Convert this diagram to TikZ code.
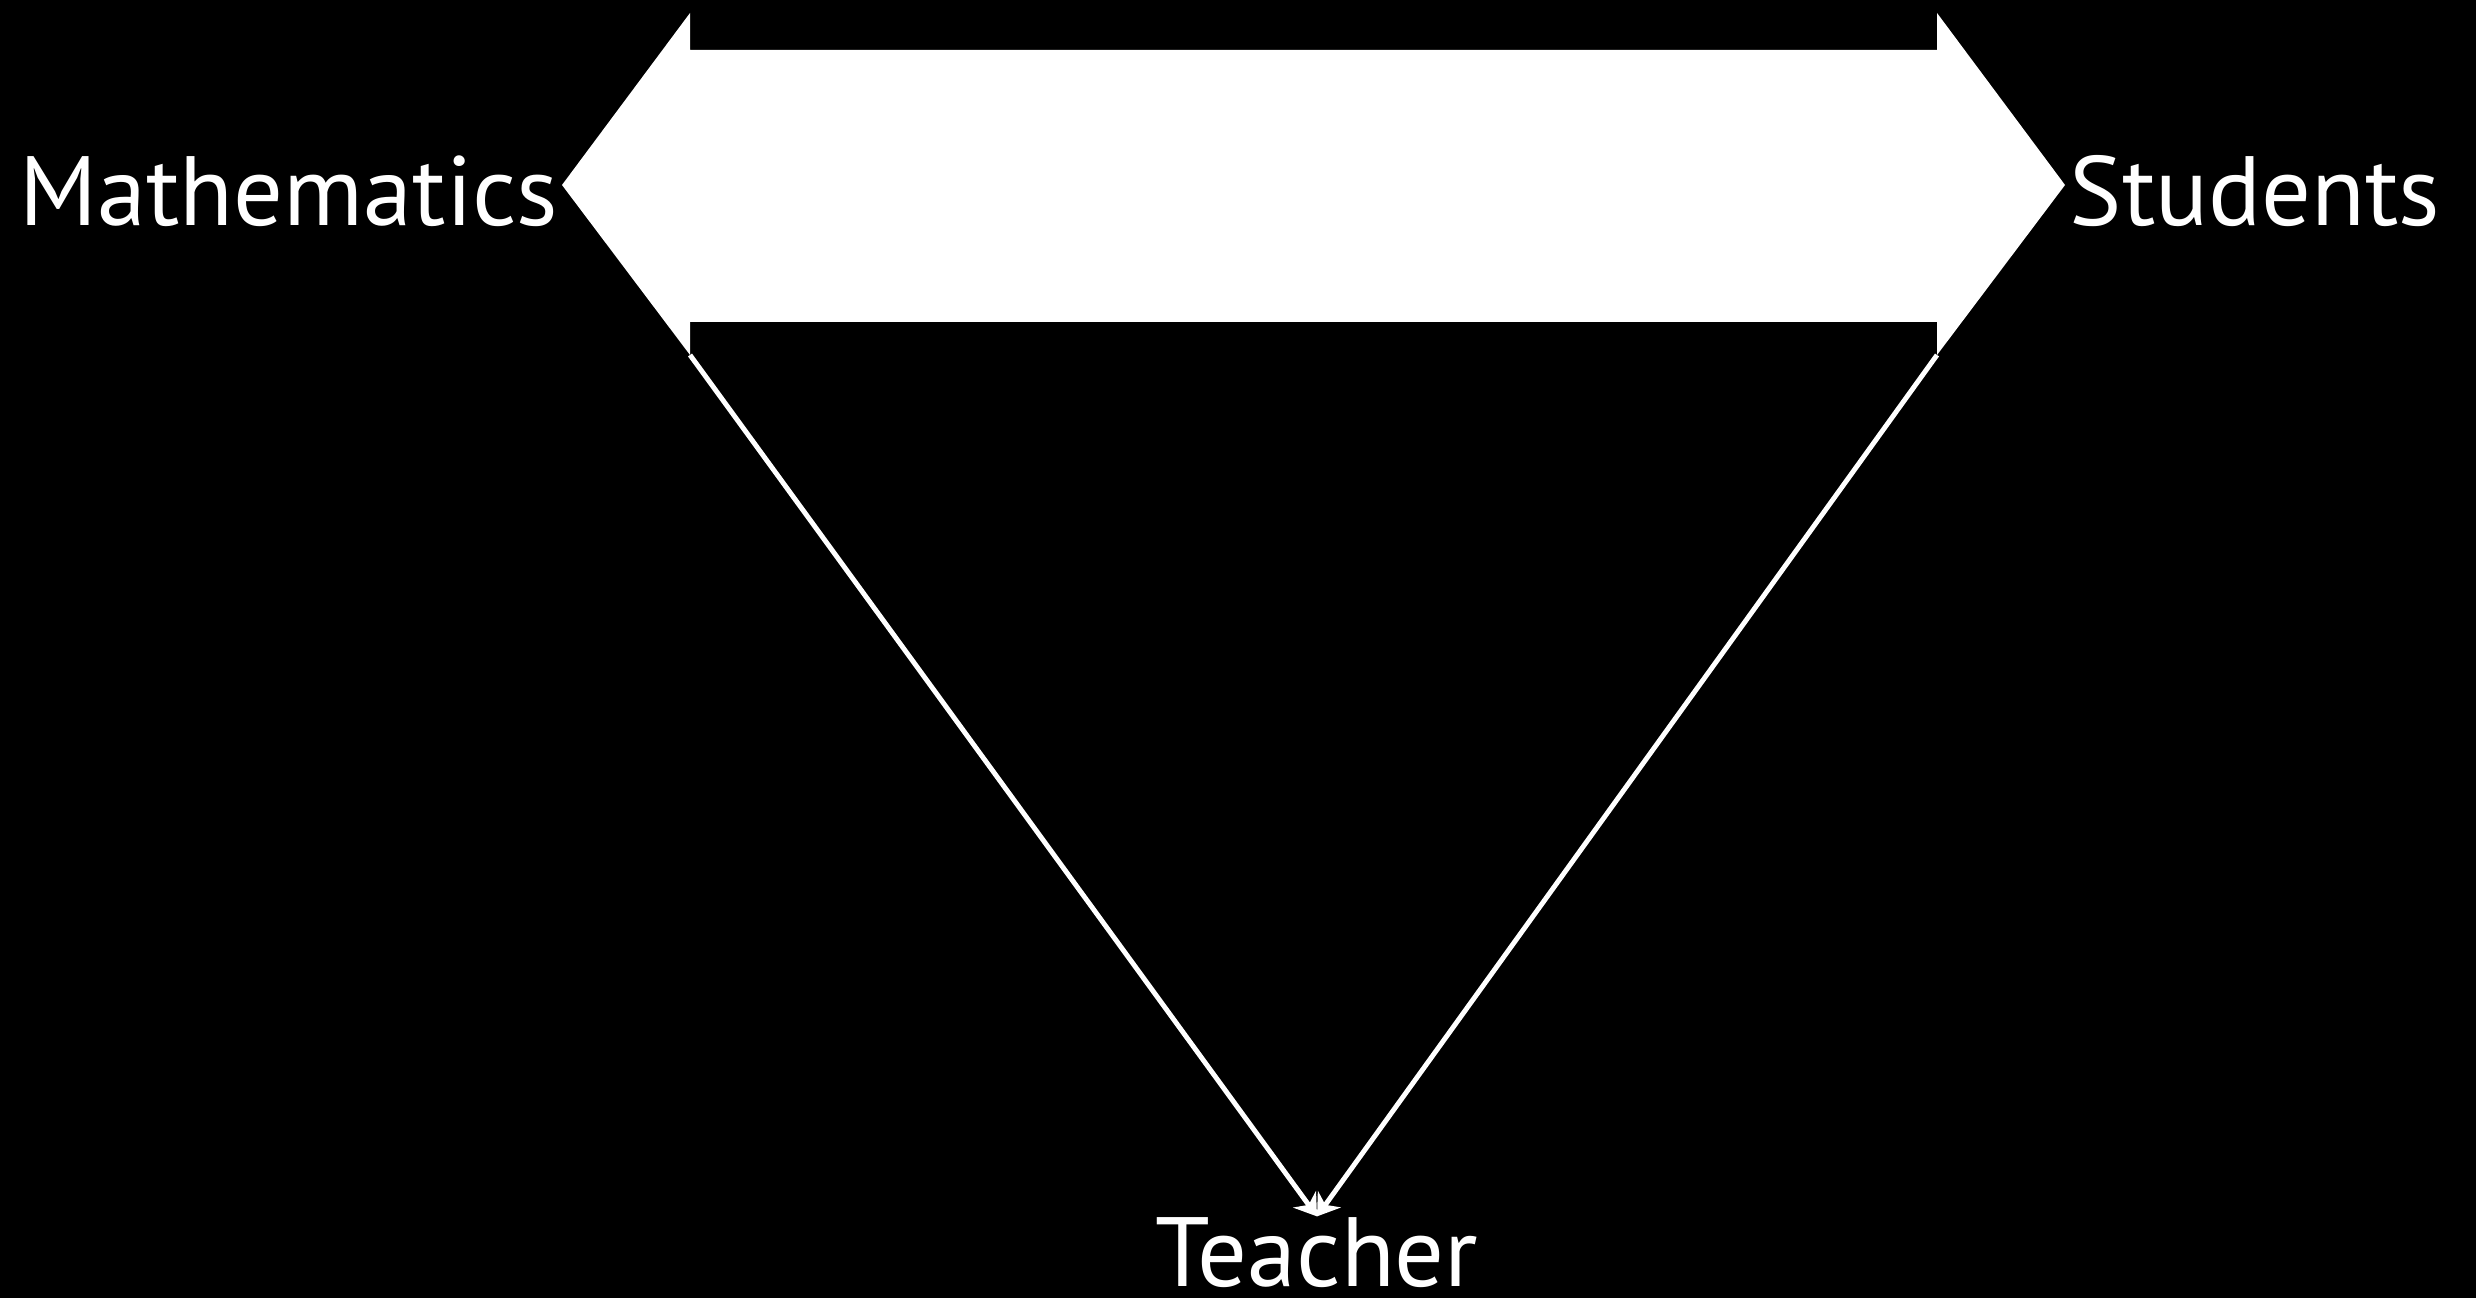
\documentclass[tikz,border=0pt]{standalone}
\usepackage{fontspec}
\setmainfont{PT Sans}
\usetikzlibrary{arrows.meta, positioning}

\begin{document}
\begin{tikzpicture}[x=0.01cm, y=-0.01cm,
    >={Stealth[length=6pt, width=8pt]},
    lbl/.style={text=white, inner sep=0pt, font=\fontsize{28}{33}\selectfont},
    link/.style={->, draw=white, line width=1.4pt}]

  \fill[black] (0,0) rectangle (2476,1298);
  \useasboundingbox (0,0) rectangle (2476,1298);

  \node[lbl, anchor=base east] (math) at (559,226) {Mathematics};
  \node[lbl, anchor=base west] (stud) at (2069,226) {Students};
  \node[lbl, anchor=base] (teach) at (1317,1286) {Teacher};

  \fill[white] (562,185) -- (690,13) -- (690,50) -- (1937,50) -- (1937,13)
               -- (2065,185) -- (1937,355) -- (1937,322) -- (690,322)
               -- (690,355) -- cycle;

  \coordinate (ml) at (690,355);
  \coordinate (sl) at (1937,355);
  \draw[link] (ml) -- (teach.north);
  \draw[link] (sl) -- (teach.north);
\end{tikzpicture}
\end{document}
